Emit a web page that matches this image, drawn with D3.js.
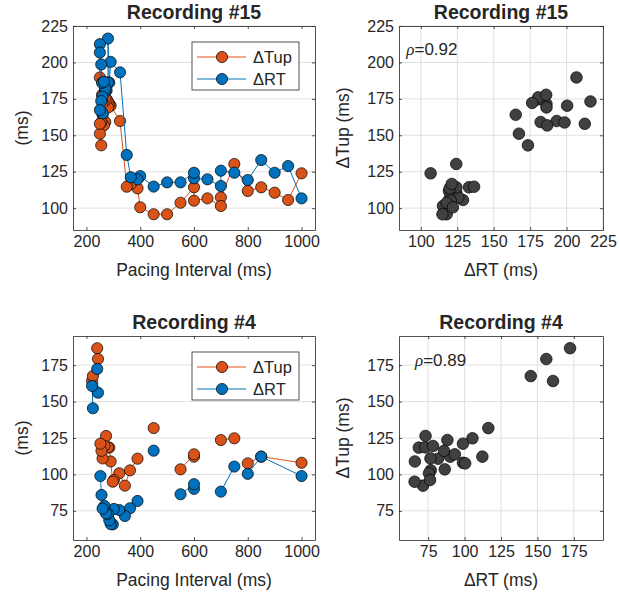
<!DOCTYPE html>
<html>
<head>
<meta charset="utf-8">
<script src="https://cdn.jsdelivr.net/npm/d3@7"></script>
<style>
body { margin: 0; background: #fff; }
text { font-family: "Liberation Sans", Arial, sans-serif; fill: #262626; }
</style>
</head>
<body>
<script>
// Recording #15 (pacing interval, dTup, dRT)
var pacing15 = [1000, 950, 900, 850, 800, 750, 700, 700, 650, 600, 600, 550, 500, 450, 400, 390, 365, 350, 325,
    290, 285, 280, 280, 275, 270, 270, 258, 265, 260, 260, 255, 255, 250, 250, 250];
var tup15 = [123.9, 105.6, 110.6, 114.3, 111.8, 130.3, 107.4, 101.5, 106.7, 105.1, 114.3, 103.7, 95.8, 95.8, 100.6, 113.6, 116.6, 114.7, 159.8,
    170.3, 171.5, 173.2, 169.1, 174.7, 176, 159.1, 177.8, 156.8, 172.2, 164.1, 158.8, 143.1, 151.1, 157.9, 189.7];
var rt15 = [106.7, 128.9, 124.3, 133, 119.3, 124.3, 125.7, 115.2, 119.8, 120.5, 124.3, 117.7, 117.7, 114.8, 122, 119.8, 121.2, 136.5, 193.2,
    200.4, 186.2, 216.4, 186.2, 180.8, 180.5, 182.2, 186, 186.7, 176.4, 165.1, 198.6, 173.5, 167.3, 212.5, 206.8];
var rho15 = "0.92";

// Recording #4 (null = gap in the line)
var pacing4 = [1000, 850, 800, null, 750, 700, null, 600, 600, 550, null, 450, null, 390, 362, 343, 322, 302, 298, 290, 285, 280, 273, 267, 260, 256, 252,
    null, 240, 243, 221, 224];
var tup4 = [108, 112.2, 107.6, null, 124.8, 123.6, null, 112.2, 113.8, 103.5, null, 131.8, null, 110.8, 102.8, 92.3, 100.8, 96.2, 95, 108.9, 118.4, 118.6, 126.4, 119.5, 111, 116.2, 121.1,
    null, 186.6, 179.2, 164.1, 167.5];
var rt4 = [98.9, 112.2, 100.4, null, 105.4, 88.2, null, 90.1, 93.3, 86.4, null, 116.3, null, 81.8, 76.8, 71.5, 75.6, 76.3, 65.7, 65.9, 68.6, 73, 73.2, 78.4, 76.6, 85.9, 98.9,
    null, 172.4, 156.1, 160.7, 145.4];
var rho4 = "0.89";

var pacingTicks = [200, 400, 600, 800, 1000];
var ticks15 = [100, 125, 150, 175, 200, 225];
var ticks4 = [75, 100, 125, 150, 175];

var orange = "#D95319", blue = "#0072BD", axisColor = "#262626", gridColor = "#e1e1e1";

var svg = d3.select("body").append("svg")
    .attr("width", 620)
    .attr("height", 601);

function rows(p, a, b) {
    return p.map(function (d, i) { return { p: d, tup: a[i], rt: b[i] }; });
}

// axes frame: grid, box, inward ticks on all four sides
function makeAxes(opt) {
    var g = svg.append("g").attr("transform", `translate(${opt.left}, ${opt.top})`);
    var x = d3.scaleLinear().domain(opt.xDomain).range([0, opt.width]);
    var y = d3.scaleLinear().domain(opt.yDomain).range([opt.height, 0]);
    var fmt = d3.format("d");

    var grid = g.append("g");
    grid.selectAll(".hg").data(opt.yTicks).enter().append("line")
        .attr("x1", 0).attr("x2", opt.width)
        .attr("y1", d => y(d)).attr("y2", d => y(d))
        .attr("stroke", gridColor).attr("stroke-width", 1);
    if (opt.xGrid) {
        grid.selectAll(".vg").data(opt.xTicks).enter().append("line")
            .attr("y1", 0).attr("y2", opt.height)
            .attr("x1", d => x(d)).attr("x2", d => x(d))
            .attr("stroke", gridColor).attr("stroke-width", 1);
    }

    var plot = g.append("g");

    var ax = [
        g.append("g").attr("transform", `translate(0, ${opt.height})`)
            .call(d3.axisBottom(x).tickValues(opt.xTicks).tickFormat(fmt).tickSizeInner(-3).tickSizeOuter(0).tickPadding(6)),
        g.append("g")
            .call(d3.axisTop(x).tickValues(opt.xTicks).tickSizeInner(-3).tickSizeOuter(0).tickFormat("")),
        g.append("g")
            .call(d3.axisLeft(y).tickValues(opt.yTicks).tickFormat(fmt).tickSizeInner(-3).tickSizeOuter(0).tickPadding(5)),
        g.append("g").attr("transform", `translate(${opt.width}, 0)`)
            .call(d3.axisRight(y).tickValues(opt.yTicks).tickSizeInner(-3).tickSizeOuter(0).tickFormat(""))
    ];
    ax.forEach(function (a) {
        a.select(".domain").attr("stroke", axisColor).attr("stroke-width", 0.8);
        a.selectAll(".tick line").attr("stroke", axisColor).attr("stroke-width", 0.8);
        a.selectAll("text").style("font-size", "16px").attr("fill", axisColor);
    });

    g.append("text")
        .attr("x", opt.width / 2).attr("y", -7)
        .attr("text-anchor", "middle")
        .style("font-size", "19.5px").style("font-weight", "bold")
        .attr("fill", "#000")
        .text(opt.title);

    g.append("text")
        .attr("x", opt.width / 2).attr("y", opt.height + 46)
        .attr("text-anchor", "middle")
        .style("font-size", "17.5px")
        .text(opt.xLabel);

    g.append("text")
        .attr("transform", "rotate(-90)")
        .attr("x", -opt.height / 2).attr("y", opt.yLabelX)
        .attr("text-anchor", "middle")
        .style("font-size", "17.5px")
        .text(opt.yLabel);

    return { g: plot, x: x, y: y, frame: g, opt: opt };
}

function drawSeries(ax, data, key, color) {
    var line = d3.line()
        .defined(d => d.p != null)
        .x(d => ax.x(d.p))
        .y(d => ax.y(d[key]));
    ax.g.append("path")
        .datum(data)
        .attr("fill", "none")
        .attr("stroke", color)
        .attr("stroke-width", 1)
        .attr("d", line);
    ax.g.selectAll(".m-" + key)
        .data(data.filter(d => d.p != null))
        .enter().append("circle")
        .attr("cx", d => ax.x(d.p))
        .attr("cy", d => ax.y(d[key]))
        .attr("r", 5.6)
        .attr("fill", color)
        .attr("stroke", "#000")
        .attr("stroke-width", 0.7);
}

function drawLegend(ax) {
    var lg = ax.frame.append("g").attr("transform", "translate(119, 16)");
    lg.append("rect")
        .attr("width", 107).attr("height", 48)
        .attr("fill", "#fff").attr("stroke", axisColor).attr("stroke-width", 0.8);
    [["\u0394Tup", orange, 15], ["\u0394RT", blue, 37]].forEach(function (e) {
        lg.append("line").attr("x1", 5).attr("x2", 54).attr("y1", e[2]).attr("y2", e[2])
            .attr("stroke", e[1]).attr("stroke-width", 1);
        lg.append("circle").attr("cx", 30).attr("cy", e[2]).attr("r", 5.6)
            .attr("fill", e[1]).attr("stroke", "#000").attr("stroke-width", 0.7);
        lg.append("text").attr("x", 61).attr("y", e[2]).attr("dy", "0.36em")
            .style("font-size", "16.5px").text(e[0]);
    });
}

function drawScatter(ax, data, rho, rx, ry) {
    ax.g.selectAll("circle")
        .data(data.filter(d => d.p != null))
        .enter().append("circle")
        .attr("cx", d => ax.x(d.rt))
        .attr("cy", d => ax.y(d.tup))
        .attr("r", 5.8)
        .attr("fill", "#404040")
        .attr("stroke", "#000")
        .attr("stroke-width", 0.7);
    var t = ax.g.append("text")
        .attr("x", ax.x(rx)).attr("y", ax.y(ry)).attr("dy", "0.36em")
        .style("font-size", "17px");
    t.append("tspan").style("font-family", "'Liberation Serif', serif").style("font-style", "italic").text("\u03C1");
    t.append("tspan").text("=" + rho);
}

var d15 = rows(pacing15, tup15, rt15);
var d4 = rows(pacing4, tup4, rt4);

var tl = makeAxes({ left: 73, top: 26, width: 242, height: 204, xDomain: [150, 1050], yDomain: [85, 225],
    xTicks: pacingTicks, yTicks: ticks15, xGrid: false, title: "Recording #15",
    xLabel: "Pacing Interval (ms)", yLabel: "(ms)", yLabelX: -45 });
drawSeries(tl, d15, "tup", orange);
drawSeries(tl, d15, "rt", blue);
drawLegend(tl);

var tr = makeAxes({ left: 399, top: 26, width: 204, height: 204, xDomain: [85, 225], yDomain: [85, 225],
    xTicks: ticks15, yTicks: ticks15, xGrid: true, title: "Recording #15",
    xLabel: "\u0394RT (ms)", yLabel: "\u0394Tup (ms)", yLabelX: -50 });
drawScatter(tr, d15, rho15, 90, 209);

var bl = makeAxes({ left: 73, top: 336, width: 242, height: 204, xDomain: [150, 1050], yDomain: [55, 195],
    xTicks: pacingTicks, yTicks: ticks4, xGrid: false, title: "Recording #4",
    xLabel: "Pacing Interval (ms)", yLabel: "(ms)", yLabelX: -45 });
drawSeries(bl, d4, "tup", orange);
drawSeries(bl, d4, "rt", blue);
drawLegend(bl);

var br = makeAxes({ left: 399, top: 336, width: 204, height: 204, xDomain: [55, 195], yDomain: [55, 195],
    xTicks: ticks4, yTicks: ticks4, xGrid: true, title: "Recording #4",
    xLabel: "\u0394RT (ms)", yLabel: "\u0394Tup (ms)", yLabelX: -50 });
drawScatter(br, d4, rho4, 66, 178.5);
</script>
</body>
</html>
